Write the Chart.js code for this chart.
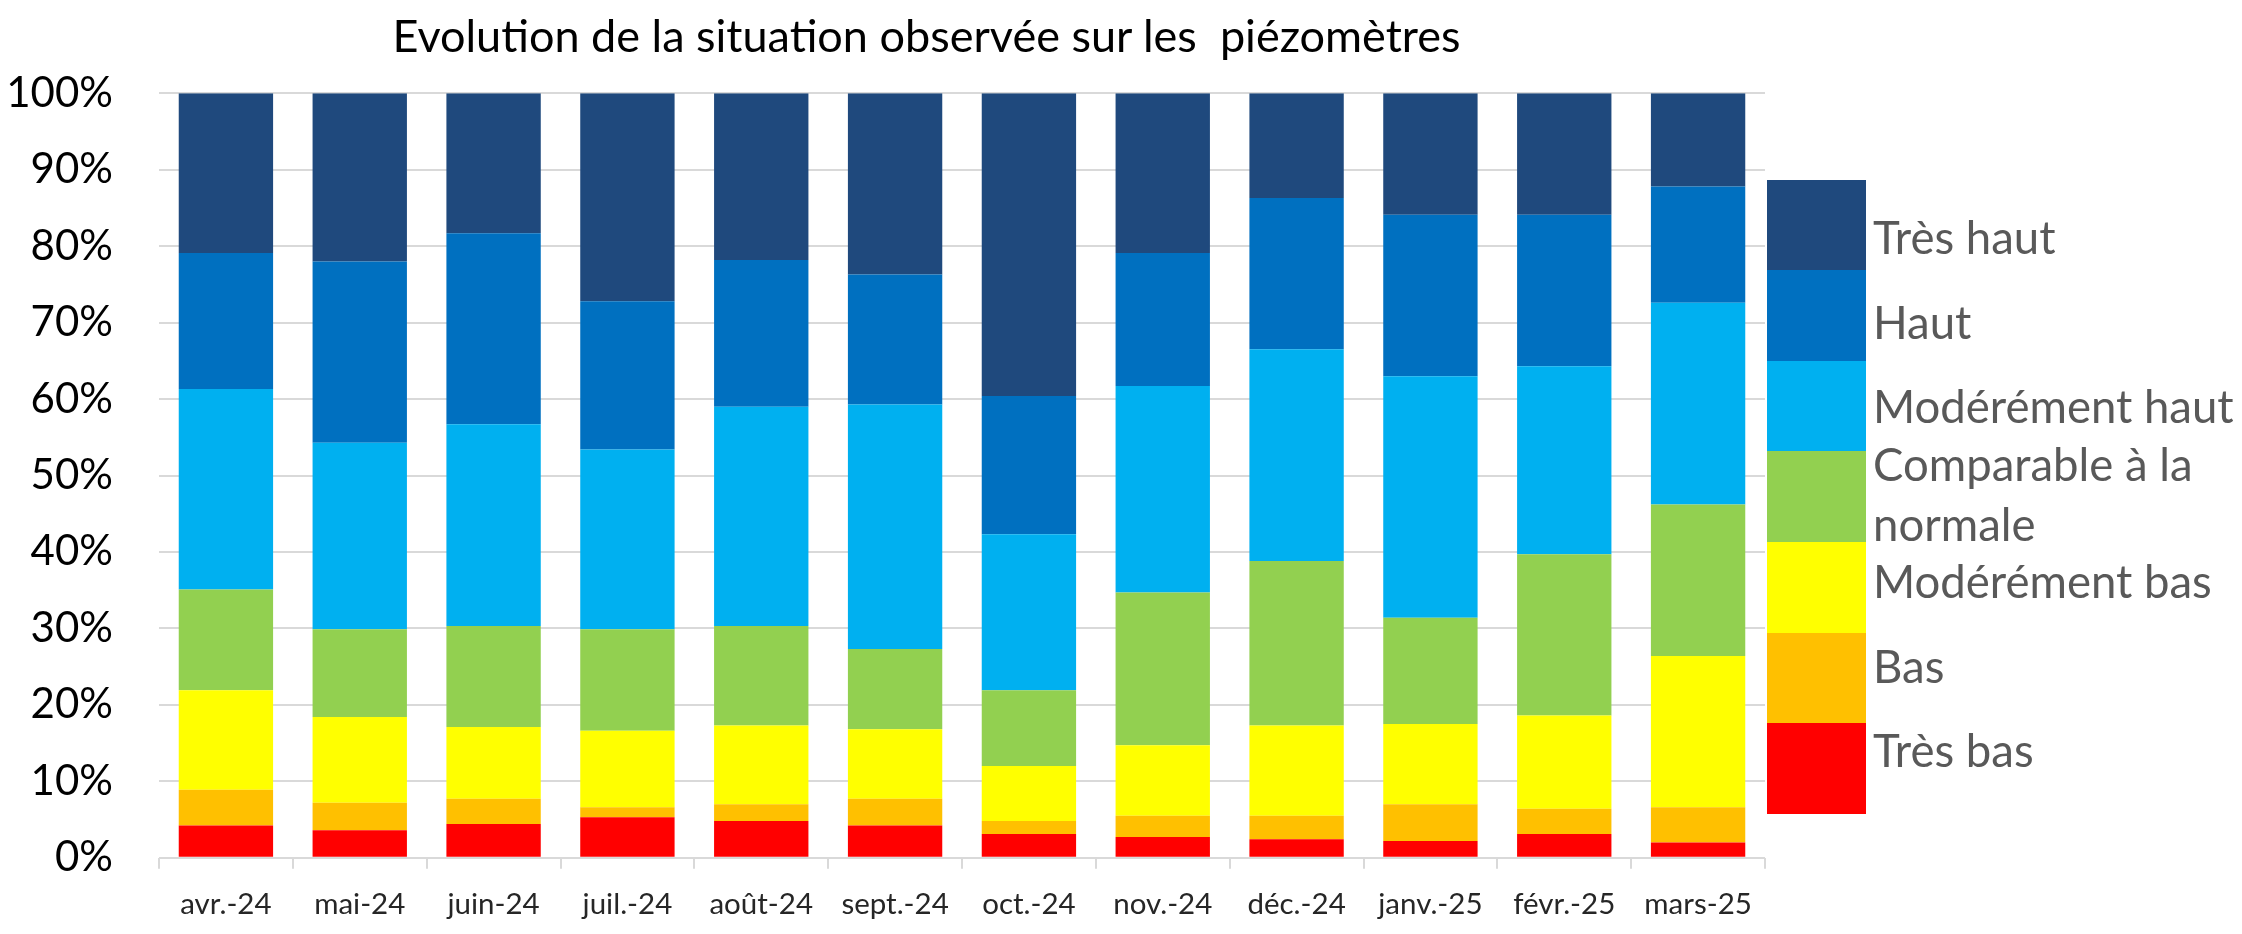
<!DOCTYPE html>
<html lang="fr">
<head>
  <meta charset="UTF-8">
  <title>Evolution de la situation observée sur les piézomètres</title>
  <script src="https://cdn.jsdelivr.net/npm/chart.js"></script>
  <style>
    body { margin: 0; background: #fff; font-family: Lato, sans-serif; }
    #wrap { position: relative; width: 2242px; height: 934px; }
    #titre {
      position: absolute; left: 0; width: 1853px; top: 8px;
      text-align: center; white-space: pre;
      font-size: 45px; line-height: 54px; color: #000;
    }
    #legende .boite { position: absolute; left: 1767px; width: 99px; }
    #legende .texte {
      position: absolute; left: 1873px; width: 369px;
      font-size: 45.5px; line-height: 60px; color: #595959;
    }
  </style>
</head>
<body>
  <div id="wrap">
    <canvas id="piezo" width="2242" height="934"></canvas>
    <div id="titre"></div>
    <div id="legende"></div>
  </div>

  <script>
    const titre = "Evolution de la situation observée sur les  piézomètres";
    const mois = ["avr.-24", "mai-24", "juin-24", "juil.-24", "août-24", "sept.-24",
                  "oct.-24", "nov.-24", "déc.-24", "janv.-25", "févr.-25", "mars-25"];

    // niveaux du bas vers le haut de la pile
    const niveaux = ["Très bas", "Bas", "Modérément bas", "Comparable à la normale",
                     "Modérément haut", "Haut", "Très haut"];
    const couleurs = ["#FF0000", "#FFC000", "#FFFF00", "#92D050", "#00B0F0", "#0070C0", "#1F497D"];

    // parts en % de piézomètres
    const tresBas       = [4.2, 3.6, 4.4, 5.3, 4.8, 4.2, 3.1, 2.7, 2.4, 2.2, 3.1, 2.0];
    const bas           = [4.7, 3.6, 3.3, 1.3, 2.2, 3.5, 1.7, 2.8, 3.1, 4.8, 3.3, 4.6];
    const moderementBas = [13.0, 11.2, 9.4, 10.0, 10.3, 9.1, 7.2, 9.2, 11.8, 10.5, 12.2, 19.8];
    const comparable    = [13.2, 11.5, 13.2, 13.3, 13.0, 10.5, 9.9, 20.0, 21.5, 13.9, 21.1, 19.8];
    const moderementHaut= [26.2, 24.4, 26.4, 23.5, 28.7, 32.0, 20.4, 27.0, 27.7, 31.6, 24.6, 26.4];
    const haut          = [17.8, 23.7, 25.0, 19.4, 19.2, 17.0, 18.1, 17.4, 19.8, 21.1, 19.8, 15.2];
    const tresHaut      = [20.9, 22.0, 18.3, 27.2, 21.8, 23.7, 39.6, 20.9, 13.7, 15.9, 15.9, 12.2];

    const series = [tresBas, bas, moderementBas, comparable, moderementHaut, haut, tresHaut];

    document.getElementById("titre").textContent = titre;

    const datasets = series.map((valeurs, i) => ({
      label: niveaux[i],
      data: valeurs,
      backgroundColor: couleurs[i],
      borderWidth: 0,
      categoryPercentage: 1,
      barPercentage: 0.705,
    }));

    new Chart(document.getElementById("piezo"), {
      type: "bar",
      data: { labels: mois, datasets: datasets },
      options: {
        responsive: false,
        devicePixelRatio: 1,
        animation: false,
        layout: { padding: { left: 0, right: 477, top: 93.3, bottom: 0 } },
        plugins: {
          legend: { display: false },
          tooltip: { enabled: false },
          title: { display: false },
        },
        scales: {
          x: {
            stacked: true,
            border: { display: false },
            grid: {
              offset: true,
              drawOnChartArea: false,
              drawTicks: true,
              tickLength: 11,
              color: "#d9d9d9",
              lineWidth: 2,
            },
            ticks: {
              color: "#262626",
              font: { family: "Lato", size: 29.5 },
              padding: 18,
              maxRotation: 0,
              autoSkip: false,
            },
            afterFit: (scale) => { scale.height = 76.3; },
          },
          y: {
            stacked: true,
            min: 0,
            max: 100,
            border: { display: false },
            grid: { color: "#d9d9d9", lineWidth: 2, drawTicks: false },
            ticks: {
              stepSize: 10,
              callback: (v) => v + "%",
              color: "#000",
              font: { family: "Lato", size: 42 },
              padding: 46,
            },
            afterFit: (scale) => { scale.width = 159; },
          },
        },
      },
    });

    // légende à droite : grandes cases empilées, Très haut en haut
    const legende = document.getElementById("legende");
    const hautBoite = 90.6;
    const centresTexte = [240, 324.5, 409, 467, 584, 668.6, 753];
    niveaux.slice().reverse().forEach((nom, i) => {
      const idx = niveaux.length - 1 - i;
      const boite = document.createElement("div");
      boite.className = "boite";
      boite.style.top = (179.5 + i * hautBoite) + "px";
      boite.style.height = (hautBoite + 0.5) + "px";
      boite.style.background = couleurs[idx];
      legende.appendChild(boite);

      const texte = document.createElement("div");
      texte.className = "texte";
      texte.style.top = (centresTexte[i] - 33) + "px";
      texte.textContent = nom;
      legende.appendChild(texte);
    });
  </script>
</body>
</html>
